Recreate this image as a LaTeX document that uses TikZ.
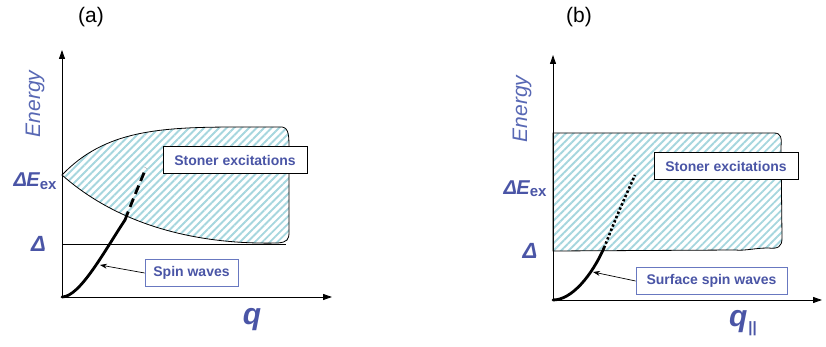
\documentclass[tikz,border=0pt]{standalone}
\usepackage{fontspec}
\setmainfont{Liberation Sans}
\usetikzlibrary{arrows.meta,patterns.meta}
\definecolor{txtblue}{HTML}{4A55A6}
\definecolor{enblue}{HTML}{5868B4}
\definecolor{boxblue}{HTML}{6878C0}
\definecolor{hatch}{HTML}{A6D6DE}
\tikzset{
  region/.style={draw=black,line width=0.8pt,pattern={Lines[angle=45,distance=5.3pt,line width=1.9pt]},pattern color=hatch},
  axis/.style={line width=0.9pt,-{Triangle[length=9pt,width=6pt]}},
  wave/.style={line width=2.8pt,line cap=round},
  labelbox/.style={draw=black,line width=0.8pt,fill=white,text=txtblue,font=\bfseries\fontsize{14}{16}\selectfont,minimum height=27pt,inner xsep=6pt},
  spinbox/.style={labelbox,draw=boxblue},
  pointer/.style={line width=0.7pt,-{Stealth[length=7pt,width=5pt]}},
  enlabel/.style={text=enblue,font=\itshape\fontsize{21}{21}\selectfont,rotate=90},
  levlabel/.style={text=txtblue,font=\bfseries\itshape\fontsize{20}{20}\selectfont},
  deltalabel/.style={text=txtblue,font=\bfseries\itshape\fontsize{22}{22}\selectfont},
  qlabel/.style={text=txtblue,font=\bfseries\itshape\fontsize{30}{30}\selectfont},
  panel/.style={font=\fontsize{21}{21}\selectfont}
}
\newcommand{\eexlabel}{Δ\kern-0.5pt E{\fontsize{15}{15}\selectfont\upshape\raisebox{-2pt}{ex}}}
\begin{document}
\begin{tikzpicture}[x=1pt,y=-1pt]
\useasboundingbox (0,0) rectangle (826,347);
% ---------------- panel (a)
\path[region] (62,175) .. controls (105,130) and (160,127) .. (240,127) -- (282,127)
  .. controls (289,128) and (289,136) .. (289,150) -- (289,232)
  .. controls (289,240) and (287,242) .. (278,243)
  .. controls (190,245) and (115,222) .. (62,175) -- cycle;
\coordinate (dla) at (62,244);
\coordinate (dra) at (286,244);
\draw[line width=0.8pt] (dla) -- (dra);
\coordinate (oa) at (62,297);
\coordinate (ya) at (62,50);
\coordinate (xa) at (332,297);
\draw[axis] (oa) -- (ya);
\draw[axis] (oa) -- (xa);
\coordinate (swa1) at (125,220);
\coordinate (swa2) at (146,168);
\coordinate (hita) at (100,265);
\draw[wave] (oa) .. controls (80,297) and (105,250) .. (swa1);
\draw[line width=2.8pt,dash pattern=on 9pt off 5pt] (swa1) .. controls (132,202) .. (swa2);
\node[labelbox,minimum width=144pt] (stona) at (235,160) {Stoner excitations};
\node[spinbox,minimum width=93pt] (spina) at (191.5,273) {Spin waves};
\draw[pointer] (spina.west) -- (hita);
\node[enlabel] (ena) at (35,104) {Energy};
\node[levlabel,anchor=base east] (exa) at (60,187) {\eexlabel};
\node[deltalabel] (da) at (38.5,244) {Δ};
\node[qlabel] (qa) at (252,320) {q};
\node[panel] (pa) at (91,17) {(a)};
% ---------------- panel (b)
\path[region] (553,133) -- (774,133)
  .. controls (781,133) and (782,138) .. (781,146) -- (782,238)
  .. controls (782,247) and (778,249) .. (768,248)
  .. controls (755,248) and (745,251) .. (735,250) -- (553,251) -- cycle;
\coordinate (ob) at (553,300);
\coordinate (yb) at (553,55);
\coordinate (xb) at (822,300);
\draw[axis] (ob) -- (yb);
\draw[axis] (ob) -- (xb);
\coordinate (swb1) at (604,248);
\coordinate (swb2) at (635,175);
\coordinate (hitb) at (593,272);
\draw[wave] (ob) .. controls (572,300) and (592,275) .. (swb1);
\draw[line width=2.6pt,dash pattern=on 2.4pt off 2.2pt] (swb1) .. controls (618,213) .. (swb2);
\node[labelbox,minimum width=144pt] (stonb) at (726,166) {Stoner excitations};
\node[spinbox,minimum width=151pt] (spinb) at (711.5,281) {Surface spin waves};
\draw[pointer] (spinb.west) -- (hitb);
\node[enlabel] (enb) at (522,109) {Energy};
\node[levlabel,anchor=base east] (exb) at (550,195) {\eexlabel};
\node[deltalabel] (db) at (530,251) {Δ};
\node[qlabel] (qb) at (743,323) {q\kern1pt{\upshape\fontsize{15}{15}\selectfont\raisebox{-6pt}{||}}};
\node[panel] (pb) at (579,17) {(b)};
\end{tikzpicture}
\end{document}
